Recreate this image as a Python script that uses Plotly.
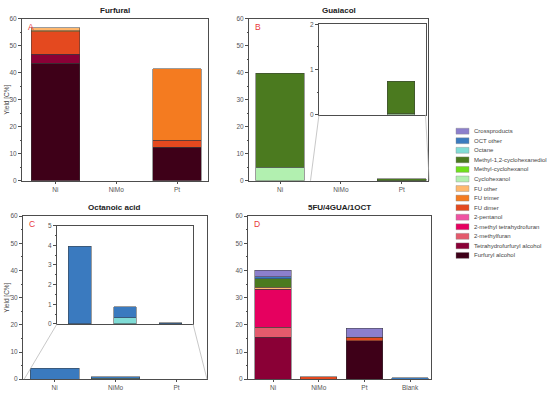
import plotly.graph_objects as go

# ---------------- data ----------------
categories = ["Ni", "NiMo", "Pt"]
categories_mix = ["Ni", "NiMo", "Pt", "Blank"]

# stacking order, bottom to top
series_names = [
    "Furfuryl alcohol", "Tetrahydrofurfuryl alcohol", "2-methylfuran",
    "2-methyl tetrahydrofuran", "2-pentanol", "FU dimer", "FU trimer", "FU other",
    "Cyclohexanol", "Methyl-cyclohexanol", "Methyl-1,2-cyclohexanediol",
    "Octane", "OCT other", "Crossproducts",
]
series_colors = [
    "#3e0018", "#8a0036", "#e45a6c",
    "#e6005f", "#f052a2", "#e4491f", "#f47b20", "#ffb86e",
    "#b2f0b0", "#70e01c", "#4b7a1f",
    "#80dcd6", "#3a7abf", "#8c7fcc",
]

# Panel A - Furfural
furfural = {
    "Furfuryl alcohol": [43.6, 0, 12.4],
    "Tetrahydrofurfuryl alcohol": [3.3, 0, 0],
    "FU dimer": [8.3, 0, 2.7],
    "FU trimer": [0.4, 0, 26.4],
    "FU other": [1.0, 0, 0],
}
# Panel B - Guaiacol
guaiacol = {
    "Cyclohexanol": [5.1, 0, 0.02],
    "Methyl-1,2-cyclohexanediol": [34.8, 0, 0.72],
}
# Panel C - Octanoic acid
octanoic = {
    "Octane": [0, 0.32, 0],
    "OCT other": [3.95, 0.55, 0.06],
}
# Panel D - 5FU/4GUA/1OCT
mixture = {
    "Furfuryl alcohol": [0, 0, 14.2, 0],
    "Tetrahydrofurfuryl alcohol": [15.4, 0, 0, 0],
    "2-methylfuran": [3.8, 0, 0, 0],
    "2-methyl tetrahydrofuran": [13.9, 0, 0, 0],
    "FU dimer": [0, 0.9, 1.2, 0],
    "FU other": [0.7, 0, 0, 0],
    "Methyl-1,2-cyclohexanediol": [3.1, 0, 0, 0],
    "OCT other": [0.8, 0, 0, 0.5],
    "Crossproducts": [2.4, 0, 3.3, 0],
}

panel_titles = ["Furfural", "Guaiacol", "Octanoic acid", "5FU/4GUA/1OCT"]
panel_letters = ["A", "B", "C", "D"]

# ---------------- layout geometry (pixels) ----------------
W, H = 550, 393
FONT = "Arial, Liberation Sans, sans-serif"


def dom_x(a, b):
    return [a / W, b / W]


def dom_y(top, bottom):
    return [1 - bottom / H, 1 - top / H]


geo = {
    "A": dict(x=dom_x(22, 208), y=dom_y(15, 180), rng=[-0.55, 2.51]),
    "B": dict(x=dom_x(249, 428), y=dom_y(15, 180), rng=[-0.51, 2.43]),
    "Bi": dict(x=dom_x(319, 425.5), y=dom_y(20.7, 112.7), rng=[0.5, 2.45]),
    "C": dict(x=dom_x(23, 207), y=dom_y(216, 382), rng=[-0.52, 2.5]),
    "Ci": dict(x=dom_x(57, 193), y=dom_y(225.7, 325.7), rng=[-0.5, 2.5]),
    "D": dict(x=dom_x(248, 431), y=dom_y(216, 382), rng=[-0.55, 3.46]),
}

fig = go.Figure()


def add_stack(data, cats, n, width):
    xa = "x" if n == 1 else f"x{n}"
    ya = "y" if n == 1 else f"y{n}"
    for name, color in zip(series_names, series_colors):
        vals = data.get(name)
        if vals is None:
            continue
        shown = [v if v else None for v in vals]
        fig.add_trace(go.Bar(
            x=cats, y=shown, name=name, width=width,
            marker=dict(color=color, line=dict(color="#3a3a3a", width=0.5)),
            xaxis=xa, yaxis=ya, showlegend=False,
        ))


add_stack(furfural, categories, 1, 0.8)
add_stack(guaiacol, categories, 2, 0.8)
add_stack(guaiacol, categories, 3, 0.5)
add_stack(octanoic, categories, 4, 0.8)
add_stack(octanoic, categories, 5, 0.5)
add_stack(mixture, categories_mix, 6, 0.8)

axis_common = dict(
    showline=True, linecolor="#4d4d4d", linewidth=1, mirror=True,
    showgrid=False, zeroline=False, tickcolor="#4d4d4d", tickwidth=0.8,
    tickfont=dict(family=FONT, size=6.5, color="#555555"),
)

layout = dict(
    width=W, height=H, margin=dict(l=0, r=0, t=0, b=0),
    paper_bgcolor="white", plot_bgcolor="white",
    barmode="stack", showlegend=False, font=dict(family=FONT),
)

order = ["A", "B", "Bi", "C", "Ci", "D"]
yranges = {"A": [0, 60], "B": [0, 60], "Bi": [0, 2], "C": [0, 60], "Ci": [0, 5], "D": [0, 60]}
ydticks = {"A": 10, "B": 10, "Bi": 1, "C": 10, "Ci": 1, "D": 10}
yminor = {"A": 5, "B": 5, "Bi": 0.5, "C": 5, "Ci": 0.5, "D": 5}

for i, key in enumerate(order, start=1):
    g = geo[key]
    xname = "xaxis" if i == 1 else f"xaxis{i}"
    yname = "yaxis" if i == 1 else f"yaxis{i}"
    inset = key.endswith("i")
    xax = dict(axis_common, domain=g["x"], range=g["rng"], type="category",
               anchor=("y" if i == 1 else f"y{i}"), fixedrange=True)
    if inset:
        xax.update(showticklabels=False, ticks="")
    else:
        xax.update(ticks="outside", ticklen=2)
    yax = dict(axis_common, domain=g["y"], range=yranges[key], dtick=ydticks[key],
               anchor=("x" if i == 1 else f"x{i}"), ticks="outside", ticklen=3,
               minor=dict(dtick=yminor[key], ticks="outside", ticklen=1.5,
                          tickcolor="#4d4d4d", tickwidth=0.6),
               fixedrange=True)
    layout[xname] = xax
    layout[yname] = yax

fig.update_layout(**layout)

annotations = []
shapes = []

# titles and panel letters
for key, title, letter in zip(["A", "B", "C", "D"], panel_titles, panel_letters):
    g = geo[key]
    annotations.append(dict(
        text=f"<b>{title}</b>", xref="paper", yref="paper",
        x=(g["x"][0] + g["x"][1]) / 2, y=g["y"][1], xanchor="center", yanchor="bottom",
        yshift=2, showarrow=False, font=dict(family=FONT, size=8, color="#222222"),
    ))
    annotations.append(dict(
        text=letter, xref="paper", yref="paper",
        x=g["x"][0], y=g["y"][1], xanchor="left", yanchor="top",
        xshift=4, yshift=-1, showarrow=False, font=dict(family=FONT, size=8.5, color="#e8383a"),
    ))

# y-axis titles
for key in ["A", "C"]:
    g = geo[key]
    annotations.append(dict(
        text="Yield [C%]", xref="paper", yref="paper", x=7 / W,
        y=(g["y"][0] + g["y"][1]) / 2, textangle=-90, showarrow=False,
        xanchor="center", yanchor="middle",
        font=dict(family=FONT, size=6.5, color="#444444"),
    ))


def px_x(val, key):
    g = geo[key]
    r = g["rng"]
    return g["x"][0] + (val - r[0]) / (r[1] - r[0]) * (g["x"][1] - g["x"][0])


# zoom connector lines
for main, ins in [("B", "Bi"), ("C", "Ci")]:
    gi = geo[ins]
    gm = geo[main]
    for side in (0, 1):
        shapes.append(dict(
            type="line", xref="paper", yref="paper",
            x0=gi["x"][side], y0=gi["y"][0],
            x1=px_x(gi["rng"][side], main), y1=gm["y"][0],
            line=dict(color="#b0b0b0", width=0.7),
        ))

# manual legend (top-to-bottom: reverse stacking order)
leg_x0, leg_x1, leg_tx = 456 / W, 469 / W, 472 / W
leg_top, leg_step, sw_h = 129.5, 9.73, 6.0
for j, (name, color) in enumerate(zip(series_names[::-1], series_colors[::-1])):
    cy = leg_top + j * leg_step
    shapes.append(dict(
        type="rect", xref="paper", yref="paper",
        x0=leg_x0, x1=leg_x1, y0=1 - (cy + sw_h / 2) / H, y1=1 - (cy - sw_h / 2) / H,
        fillcolor=color, line=dict(color="#888888", width=0.4),
    ))
    annotations.append(dict(
        text=name, xref="paper", yref="paper", x=leg_tx, y=1 - cy / H,
        xanchor="left", yanchor="middle", showarrow=False,
        font=dict(family=FONT, size=6, color="#444444"),
    ))

fig.update_layout(annotations=annotations, shapes=shapes)

fig.write_html("out.html", config={"displayModeBar": False},
               post_script="document.body.style.margin='0px';")
